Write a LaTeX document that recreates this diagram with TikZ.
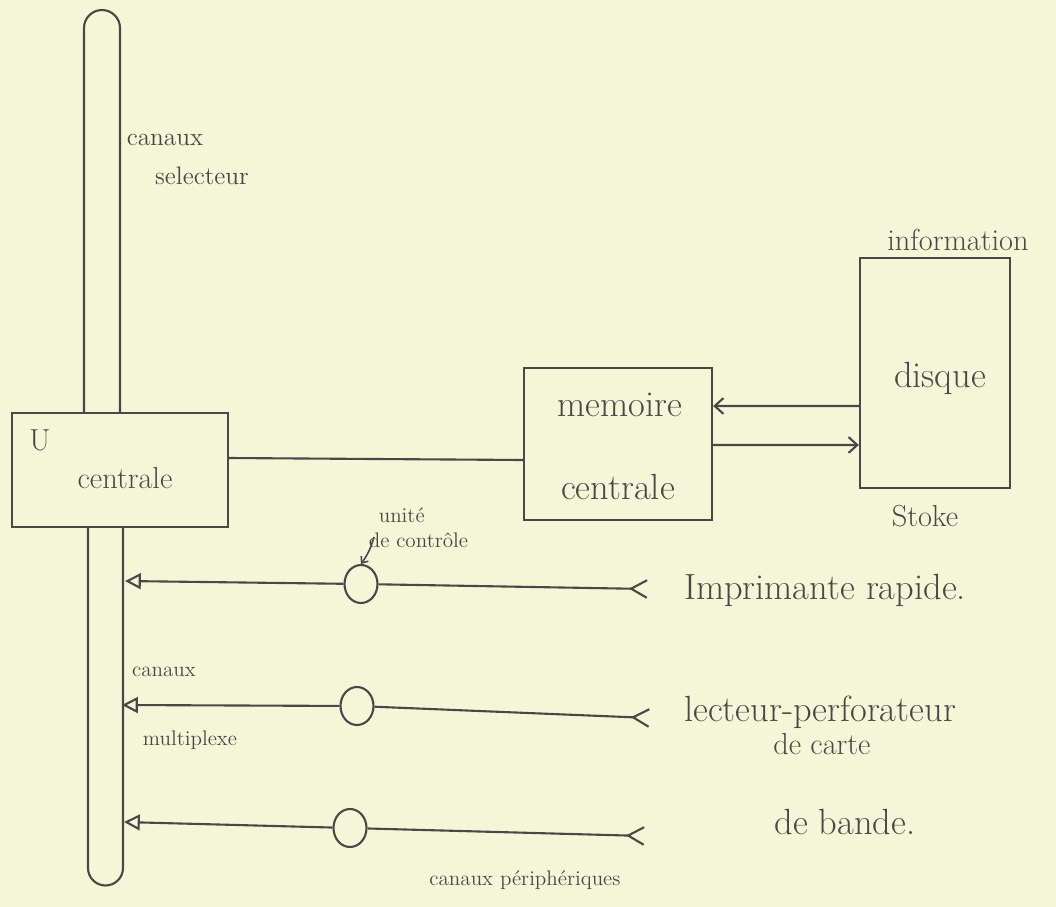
\documentclass[tikz,border=0pt]{standalone}
\usepackage{tikz}
\usetikzlibrary{arrows.meta,shapes.geometric}
\definecolor{pap}{HTML}{F4F6D8}
\definecolor{ink}{HTML}{484846}

\begin{document}
\begin{tikzpicture}[x=0.02cm,y=0.02cm,line width=1.2pt,
  box/.style={draw=ink,line width=1.3pt,inner sep=0pt},
  ctl/.style={draw=ink,ellipse,minimum width=0.66cm,minimum height=0.76cm,inner sep=0pt},
  txt/.style={text=ink,inner sep=1pt},
  feed/.style={draw=ink,{Straight Barb[reversed,length=9pt,width=10pt]}-},
  tobus/.style={draw=ink,-{Triangle[open,length=9pt,width=9pt]}},
  barb/.style={draw=ink,-{Straight Barb[length=5pt,width=9pt]}}]
\fill[pap] (0,0) rectangle (1056,-907);
\useasboundingbox (0,0) rectangle (1056,-907);

% bus, cut in two by the unit
\draw[ink] (84,-413) -- (84,-28) arc[start angle=180,end angle=0,radius=0.36cm] -- (120,-413);
\draw[ink] (88,-527) -- (88,-868) arc[start angle=180,end angle=360,radius=0.35cm] -- (123,-527);
\node[txt,font=\Large] (sel1) at (165,-140) {canaux};
\node[txt,font=\Large] (sel2) at (202,-176) {selecteur};

% boxes
\node[box,minimum width=4.32cm,minimum height=2.28cm] (uc) at (120,-470) {};
\node[txt,font=\LARGE] (ucu) at (40,-440) {U};
\node[txt,font=\LARGE] (ucc) at (125,-478) {centrale};

\node[box,minimum width=3.76cm,minimum height=3.04cm] (mc) at (618,-444) {};
\node[txt,font=\huge] (mcm) at (620,-405) {memoire};
\node[txt,font=\huge] (mcc) at (618,-487) {centrale};

\node[box,minimum width=3cm,minimum height=4.6cm] (dq) at (935,-373) {};
\node[txt,font=\huge] (dqd) at (940,-378) {disque};
\node[txt,font=\LARGE] (dqi) at (958,-240) {information};
\node[txt,font=\LARGE] (dqs) at (925,-516) {Stoke};

\draw[ink] ([yshift=0.24cm]uc.east) -- ([yshift=-0.32cm]mc.west);
\draw[barb] ([yshift=-0.66cm]dq.west) -- ([yshift=0.76cm]mc.east);
\draw[barb] ([yshift=-0.02cm]mc.east) -- ([yshift=-1.44cm]dq.west);

% control units on the peripheral lines
\node[ctl] (c1) at (361,-584) {};
\node[ctl] (c2) at (357,-706) {};
\node[ctl] (c3) at (350,-828) {};
\coordinate (b1) at (125,-581);
\coordinate (b2) at (122,-705);
\coordinate (b3) at (124,-822);
\coordinate (t1) at (648,-589);
\coordinate (t2) at (650,-718);
\coordinate (t3) at (645,-836);
\draw[feed] (t1) -- (c1);
\draw[feed] (t2) -- (c2);
\draw[feed] (t3) -- (c3);
\draw[tobus] (c1) -- (b1);
\draw[tobus] (c2) -- (b2);
\draw[tobus] (c3) -- (b3);

\node[txt,font=\large,align=left,anchor=west] (uct) at (366,-528) {\hspace*{0.2cm}unité\\de contrôle};
\draw[ink,line width=0.9pt,-{Straight Barb[length=3pt,width=5pt]}] (374,-537) to[bend left=10] (c1.north);

\node[txt,font=\large] (mx1) at (164,-672) {canaux};
\node[txt,font=\large] (mx2) at (190,-740) {multiplexe};

\node[txt,font=\huge] (p1) at (825,-590) {Imprimante rapide.};
\node[txt,font=\huge] (p2) at (820,-712) {lecteur-perforateur};
\node[txt,font=\LARGE] (p2b) at (822,-744) {de carte};
\node[txt,font=\huge] (p3) at (845,-822) {de bande.};
\node[txt,font=\large] (pp) at (525,-880) {canaux périphériques};
\end{tikzpicture}
\end{document}
